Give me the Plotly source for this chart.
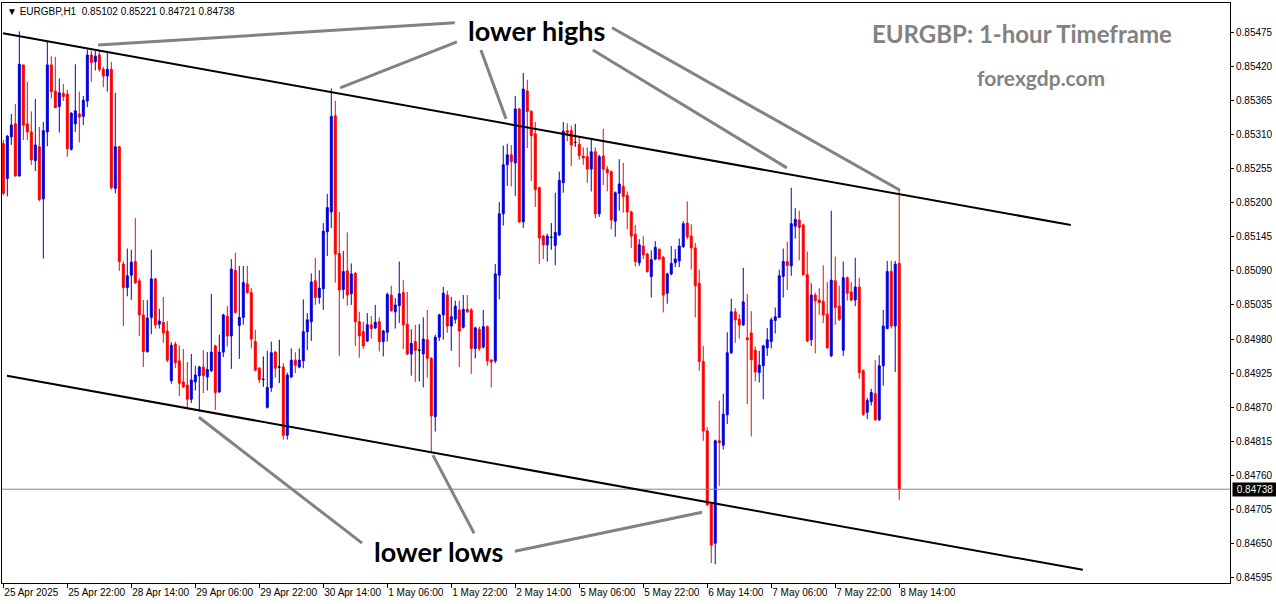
import plotly.graph_objects as go

# ---------------- data (EURGBP H1) ----------------
open_ = [
0.85295, 0.85239, 0.85306, 0.85327, 0.85243, 0.85422, 0.85327, 0.85314, 0.85268, 0.85290,
0.85206, 0.85314, 0.85422, 0.85380, 0.85355, 0.85376, 0.85375, 0.85286, 0.85327, 0.85343,
0.85339, 0.85364, 0.85438, 0.85427, 0.85438, 0.85415, 0.85404, 0.85415, 0.85223, 0.85290,
0.85101, 0.85063, 0.85083, 0.85105, 0.85074, 0.85019, 0.84960, 0.85015, 0.85077, 0.85004,
0.85007, 0.84993, 0.84913, 0.84972, 0.84945, 0.84911, 0.84906, 0.84883, 0.84911, 0.84921,
0.84935, 0.84919, 0.84929, 0.84969, 0.84895, 0.84959, 0.85017, 0.84985, 0.85091, 0.85002,
0.85015, 0.85069, 0.85055, 0.84976, 0.84933, 0.84915, 0.84870, 0.84902, 0.84959, 0.84935,
0.84935, 0.84825, 0.84919, 0.84946, 0.84935, 0.84945, 0.84992, 0.85008, 0.85074, 0.85047,
0.85061, 0.85153, 0.85185, 0.85340, 0.85118, 0.85060, 0.85090, 0.85053, 0.85086, 0.85008,
0.84992, 0.84977, 0.85003, 0.84998, 0.85008, 0.84976, 0.84991, 0.85051, 0.85024, 0.85034,
0.85055, 0.85004, 0.84956, 0.84976, 0.84962, 0.84956, 0.84979, 0.84949, 0.84855, 0.84983,
0.85019, 0.85051, 0.85001, 0.85012, 0.85027, 0.84999, 0.85028, 0.85027, 0.84965, 0.84996,
0.84967, 0.85000, 0.84946, 0.84945, 0.85083, 0.85182, 0.85261, 0.85277, 0.85264, 0.85351,
0.85169, 0.85380, 0.85347, 0.85311, 0.85224, 0.85146, 0.85132, 0.85144, 0.85131, 0.85148,
0.85232, 0.85316, 0.85316, 0.85297, 0.85294, 0.85275, 0.85274, 0.85254, 0.85282, 0.85182,
0.85275, 0.85254, 0.85250, 0.85170, 0.85215, 0.85226, 0.85212, 0.85185, 0.85149, 0.85103,
0.85130, 0.85117, 0.85081, 0.85109, 0.85125, 0.85112, 0.85054, 0.85085, 0.85103, 0.85106,
0.85129, 0.85167, 0.85146, 0.85127, 0.85070, 0.84944, 0.84832, 0.84714, 0.84651, 0.84816,
0.84809, 0.84858, 0.84958, 0.85024, 0.85012, 0.85003, 0.84982, 0.84990, 0.84962, 0.84926,
0.84937, 0.84966, 0.84976, 0.85010, 0.85015, 0.85081, 0.85105, 0.85098, 0.85162, 0.85172,
0.85164, 0.85084, 0.84979, 0.85051, 0.85043, 0.85041, 0.85020, 0.84953, 0.85074, 0.85033,
0.84962, 0.85079, 0.85056, 0.85043, 0.85064, 0.84929, 0.84862, 0.84879, 0.84892, 0.84850,
0.84937, 0.84997, 0.85089, 0.85001, 0.85102,
]
high = [
0.85301, 0.85309, 0.85343, 0.85359, 0.85476, 0.85422, 0.85395, 0.85347, 0.85367, 0.85322,
0.85330, 0.85459, 0.85436, 0.85435, 0.85400, 0.85391, 0.85382, 0.85346, 0.85423, 0.85379,
0.85372, 0.85447, 0.85445, 0.85445, 0.85445, 0.85419, 0.85442, 0.85427, 0.85377, 0.85291,
0.85105, 0.85126, 0.85124, 0.85175, 0.85078, 0.85043, 0.85043, 0.85124, 0.85079, 0.85029,
0.85048, 0.85009, 0.84975, 0.84976, 0.84970, 0.84964, 0.84943, 0.84956, 0.84937, 0.84937,
0.84962, 0.84959, 0.85053, 0.84971, 0.84987, 0.85021, 0.85033, 0.85109, 0.85119, 0.85098,
0.85098, 0.85098, 0.85062, 0.84995, 0.84935, 0.84952, 0.84961, 0.84976, 0.84961, 0.84979,
0.84941, 0.84926, 0.84965, 0.84959, 0.84965, 0.85044, 0.85022, 0.85086, 0.85111, 0.85091,
0.85167, 0.85214, 0.85384, 0.85364, 0.85185, 0.85122, 0.85152, 0.85102, 0.85088, 0.85024,
0.85008, 0.85022, 0.85017, 0.85035, 0.85015, 0.84995, 0.85055, 0.85066, 0.85046, 0.85105,
0.85075, 0.85056, 0.84996, 0.85003, 0.85004, 0.85015, 0.85027, 0.84951, 0.84987, 0.85021,
0.85064, 0.85058, 0.85048, 0.85042, 0.85042, 0.85051, 0.85051, 0.85030, 0.85000, 0.85000,
0.85027, 0.85002, 0.84948, 0.85101, 0.85201, 0.85292, 0.85295, 0.85293, 0.85372, 0.85353,
0.85409, 0.85398, 0.85349, 0.85330, 0.85226, 0.85148, 0.85150, 0.85167, 0.85216, 0.85250,
0.85330, 0.85328, 0.85324, 0.85327, 0.85307, 0.85289, 0.85289, 0.85303, 0.85289, 0.85277,
0.85319, 0.85259, 0.85252, 0.85218, 0.85270, 0.85264, 0.85218, 0.85187, 0.85164, 0.85141,
0.85146, 0.85119, 0.85123, 0.85138, 0.85126, 0.85114, 0.85087, 0.85130, 0.85125, 0.85142,
0.85170, 0.85202, 0.85165, 0.85135, 0.85092, 0.84969, 0.84838, 0.84716, 0.84818, 0.84881,
0.84892, 0.84991, 0.85045, 0.85030, 0.85020, 0.85095, 0.85053, 0.85025, 0.84968, 0.84961,
0.84971, 0.84998, 0.85015, 0.85031, 0.85092, 0.85126, 0.85137, 0.85224, 0.85191, 0.85187,
0.85166, 0.85121, 0.85070, 0.85055, 0.85062, 0.85099, 0.85072, 0.85187, 0.85113, 0.85066,
0.85105, 0.85081, 0.85072, 0.85111, 0.85079, 0.84931, 0.84885, 0.84900, 0.84946, 0.84954,
0.85027, 0.85106, 0.85106, 0.85106, 0.85221,
]
low = [
0.85212, 0.85210, 0.85293, 0.85242, 0.85242, 0.85301, 0.85301, 0.85261, 0.85251, 0.85202,
0.85110, 0.85291, 0.85368, 0.85353, 0.85313, 0.85364, 0.85274, 0.85284, 0.85314, 0.85297,
0.85325, 0.85354, 0.85395, 0.85413, 0.85411, 0.85386, 0.85379, 0.85221, 0.85215, 0.85090,
0.85001, 0.85049, 0.85043, 0.85069, 0.84985, 0.84935, 0.84958, 0.84988, 0.84997, 0.84997,
0.84974, 0.84943, 0.84908, 0.84933, 0.84888, 0.84901, 0.84868, 0.84877, 0.84897, 0.84863,
0.84893, 0.84897, 0.84927, 0.84866, 0.84893, 0.84951, 0.84968, 0.84932, 0.85021, 0.84948,
0.85003, 0.85053, 0.84965, 0.84928, 0.84909, 0.84903, 0.84868, 0.84895, 0.84918, 0.84909,
0.84818, 0.84818, 0.84917, 0.84925, 0.84933, 0.84933, 0.84962, 0.84977, 0.85035, 0.85037,
0.85027, 0.85114, 0.85159, 0.85071, 0.84953, 0.85045, 0.85034, 0.85035, 0.84969, 0.84950,
0.84964, 0.84975, 0.84981, 0.84996, 0.84960, 0.84952, 0.84976, 0.85024, 0.84997, 0.85006,
0.84964, 0.84954, 0.84921, 0.84911, 0.84912, 0.84902, 0.84918, 0.84797, 0.84831, 0.84977,
0.84979, 0.84990, 0.84961, 0.85005, 0.84935, 0.84997, 0.85022, 0.84924, 0.84949, 0.84961,
0.84965, 0.84937, 0.84902, 0.84941, 0.85044, 0.85163, 0.85227, 0.85226, 0.85211, 0.85167,
0.85159, 0.85288, 0.85235, 0.85193, 0.85101, 0.85109, 0.85105, 0.85124, 0.85099, 0.85146,
0.85216, 0.85299, 0.85259, 0.85290, 0.85269, 0.85261, 0.85232, 0.85218, 0.85175, 0.85177,
0.85228, 0.85218, 0.85157, 0.85145, 0.85187, 0.85184, 0.85157, 0.85127, 0.85097, 0.85098,
0.85109, 0.85087, 0.85047, 0.85107, 0.85107, 0.85023, 0.85037, 0.85083, 0.85096, 0.85096,
0.85127, 0.85141, 0.85092, 0.85015, 0.84929, 0.84816, 0.84711, 0.84619, 0.84617, 0.84743,
0.84802, 0.84843, 0.84956, 0.84974, 0.84981, 0.85001, 0.84875, 0.84823, 0.84912, 0.84910,
0.84883, 0.84953, 0.84965, 0.84989, 0.85014, 0.85047, 0.85059, 0.85082, 0.85142, 0.85107,
0.85082, 0.84975, 0.84969, 0.84957, 0.85019, 0.85006, 0.84964, 0.84951, 0.85003, 0.85009,
0.84953, 0.85042, 0.85041, 0.85033, 0.84916, 0.84856, 0.84851, 0.84873, 0.84848, 0.84848,
0.84905, 0.84996, 0.84997, 0.84927, 0.84721,
]
close = [
0.85215, 0.85307, 0.85325, 0.85243, 0.85423, 0.85325, 0.85314, 0.85269, 0.85293, 0.85205,
0.85316, 0.85422, 0.85379, 0.85353, 0.85377, 0.85371, 0.85287, 0.85344, 0.85348, 0.85338,
0.85365, 0.85438, 0.85426, 0.85436, 0.85415, 0.85404, 0.85415, 0.85224, 0.85290, 0.85105,
0.85063, 0.85082, 0.85104, 0.85071, 0.85019, 0.84960, 0.85014, 0.85077, 0.85003, 0.85009,
0.84990, 0.84946, 0.84970, 0.84942, 0.84909, 0.84903, 0.84883, 0.84914, 0.84922, 0.84935,
0.84921, 0.84931, 0.84959, 0.84894, 0.84959, 0.85019, 0.84985, 0.85093, 0.85023, 0.85015,
0.85071, 0.85055, 0.84980, 0.84930, 0.84915, 0.84915, 0.84902, 0.84958, 0.84933, 0.84935,
0.84825, 0.84922, 0.84946, 0.84938, 0.84946, 0.84992, 0.85011, 0.85072, 0.85047, 0.85062,
0.85154, 0.85192, 0.85339, 0.85117, 0.85059, 0.85089, 0.85051, 0.85085, 0.85008, 0.84985,
0.84969, 0.85003, 0.84997, 0.85007, 0.84976, 0.84993, 0.85052, 0.85026, 0.85035, 0.85053,
0.85003, 0.84956, 0.84973, 0.84962, 0.84962, 0.84980, 0.84949, 0.84856, 0.84983, 0.85019,
0.85054, 0.85001, 0.85016, 0.85033, 0.84993, 0.85028, 0.85024, 0.84965, 0.84998, 0.84965,
0.85000, 0.84945, 0.84943, 0.85085, 0.85182, 0.85261, 0.85277, 0.85266, 0.85351, 0.85169,
0.85383, 0.85347, 0.85308, 0.85221, 0.85143, 0.85132, 0.85146, 0.85144, 0.85152, 0.85236,
0.85315, 0.85313, 0.85293, 0.85297, 0.85276, 0.85272, 0.85254, 0.85282, 0.85182, 0.85274,
0.85254, 0.85248, 0.85172, 0.85216, 0.85230, 0.85210, 0.85185, 0.85146, 0.85105, 0.85132,
0.85116, 0.85089, 0.85108, 0.85128, 0.85109, 0.85051, 0.85085, 0.85102, 0.85109, 0.85130,
0.85166, 0.85145, 0.85127, 0.85066, 0.84944, 0.84832, 0.84713, 0.84648, 0.84816, 0.84813,
0.84859, 0.84958, 0.85024, 0.85011, 0.85003, 0.85040, 0.84979, 0.84947, 0.84927, 0.84938,
0.84969, 0.84979, 0.85011, 0.85016, 0.85082, 0.85105, 0.85099, 0.85166, 0.85173, 0.85160,
0.85084, 0.84977, 0.85051, 0.85042, 0.85039, 0.85019, 0.84966, 0.85075, 0.85031, 0.85012,
0.85079, 0.85054, 0.85043, 0.85064, 0.84926, 0.84859, 0.84881, 0.84894, 0.84850, 0.84937,
0.85001, 0.85089, 0.85001, 0.85101, 0.84738,
]

# time-axis labels (one every 16 hourly bars)
tick_bars = [0, 16, 32, 48, 64, 80, 96, 112, 128, 144, 160, 176, 192, 208, 224]
tick_text = ["25 Apr 2025", "25 Apr 22:00", "28 Apr 14:00", "29 Apr 06:00", "29 Apr 22:00",
             "30 Apr 14:00", "1 May 06:00", "1 May 22:00", "2 May 14:00", "5 May 06:00",
             "5 May 22:00", "6 May 14:00", "7 May 06:00", "7 May 22:00", "8 May 14:00"]
price_ticks = [0.84595, 0.84650, 0.84705, 0.84760, 0.84815, 0.84870, 0.84925, 0.84980, 0.85035,
               0.85090, 0.85145, 0.85200, 0.85255, 0.85310, 0.85365, 0.85420, 0.85475]

# channel lines (bar index, price)
upper_channel_x = [-0.1, 266.9]
upper_channel_y = [0.85473, 0.85164]
lower_channel_x = [0.9, 269.9]
lower_channel_y = [0.84921, 0.84608]

# pointer lines from the labels (bar index pairs, price pairs)
highs_pointers = [((23.7, 112.9), (0.85454, 0.85490)),
                  ((84.2, 113.4), (0.85385, 0.85459)),
                  ((119.4, 125.7), (0.85446, 0.85335)),
                  ((147.4, 195.9), (0.85446, 0.85256)),
                  ((152.2, 224.2), (0.85482, 0.85220))]
lows_pointers = [((48.9, 89.7), (0.84854, 0.84651)),
                 ((107.4, 117.7), (0.84793, 0.84667)),
                 ((127.9, 174.7), (0.84638, 0.84701))]

current_price = 0.84738
header = "EURGBP,H1  0.85102 0.85221 0.84721 0.84738"

# ---------------- figure ----------------
BLUE = "#0000dd"
RED = "#ff0000"
GREY = "#828282"

bars = list(range(len(open_)))
groups = {"up": [], "down": [], "doji": []}
for i in bars:
    if close[i] > open_[i]:
        groups["up"].append(i)
    elif close[i] < open_[i]:
        groups["down"].append(i)
    else:
        groups["doji"].append(i)

fig = go.Figure()
colors = {"up": BLUE, "down": RED, "doji": "#000000"}
for name, idx in groups.items():
    c = colors[name]
    fig.add_trace(go.Candlestick(
        x=idx,
        open=[open_[i] for i in idx], high=[high[i] for i in idx],
        low=[low[i] for i in idx], close=[close[i] for i in idx],
        increasing=dict(line=dict(color=c, width=1), fillcolor=c),
        decreasing=dict(line=dict(color=c, width=1), fillcolor=c),
        whiskerwidth=0, showlegend=False, hoverinfo="skip",
    ))

# current price line
fig.add_trace(go.Scatter(x=[-1, 320], y=[current_price, current_price], mode="lines",
                         line=dict(color="#778899", width=1), showlegend=False, hoverinfo="skip"))
# channel
fig.add_trace(go.Scatter(x=upper_channel_x, y=upper_channel_y, mode="lines",
                         line=dict(color="black", width=2), showlegend=False, hoverinfo="skip"))
fig.add_trace(go.Scatter(x=lower_channel_x, y=lower_channel_y, mode="lines",
                         line=dict(color="black", width=2), showlegend=False, hoverinfo="skip"))
for (xs, ys) in highs_pointers + lows_pointers:
    fig.add_trace(go.Scatter(x=list(xs), y=list(ys), mode="lines",
                             line=dict(color=GREY, width=3), showlegend=False, hoverinfo="skip"))

W, H = 1276, 604
ML, MR, MT, MB = 2, 46, 3, 21
PW, PH = W - ML - MR, H - MT - MB


def px_to_paper(x, y):
    return (x - ML) / PW, 1 - (y - MT) / PH


tx, ty = px_to_paper(1022, 33)
fx, fy = px_to_paper(1041, 78)

annotations = [
    dict(text="lower highs", x=133.2, y=0.85478, xref="x", yref="y", showarrow=False,
         xanchor="center", yanchor="middle",
         font=dict(family="Lato", size=27, color="black", weight="bold")),
    dict(text="lower lows", x=108.7, y=0.84638, xref="x", yref="y", showarrow=False,
         xanchor="center", yanchor="middle",
         font=dict(family="Lato", size=27, color="black", weight="bold")),
    dict(text="EURGBP: 1-hour Timeframe", x=tx, y=ty, xref="paper", yref="paper",
         xanchor="center", yanchor="middle",
         showarrow=False, font=dict(family="Lato", size=24, color=GREY, weight="bold")),
    dict(text="forexgdp.com", x=fx, y=fy, xref="paper", yref="paper",
         xanchor="center", yanchor="middle",
         showarrow=False, font=dict(family="Lato", size=21, color=GREY, weight="bold")),
    dict(text="▼ " + header, x=0, y=1, xref="paper", yref="paper", xanchor="left", yanchor="top",
         xshift=3, yshift=-1, showarrow=False,
         font=dict(family="Liberation Sans", size=10, color="black")),
    dict(text=" %.5f " % current_price, x=1, y=current_price, xref="paper", yref="y",
         xanchor="left", yanchor="middle", xshift=2, showarrow=False, bgcolor="black",
         borderpad=1, font=dict(family="Liberation Sans", size=10, color="white")),
]

fig.update_layout(
    width=W, height=H,
    margin=dict(l=ML, r=MR, t=MT, b=MB, autoexpand=False),
    paper_bgcolor="white", plot_bgcolor="white",
    annotations=annotations,
    xaxis=dict(range=[-0.33, 306.7], rangeslider=dict(visible=False), automargin=False,
               tickmode="array", tickvals=tick_bars, ticktext=tick_text, tickangle=0,
               ticks="outside", ticklen=4, tickcolor="black",
               ticklabelposition="outside right",
               tickfont=dict(family="Liberation Sans", size=10, color="black"),
               showgrid=False, zeroline=False,
               showline=True, linecolor="black", linewidth=1, mirror=True, fixedrange=True),
    yaxis=dict(range=[0.845868, 0.855218], side="right", automargin=False,
               tickmode="array", tickvals=price_ticks,
               ticktext=["%.5f" % v for v in price_ticks],
               ticks="outside", ticklen=3, tickcolor="black",
               tickfont=dict(family="Liberation Sans", size=10, color="black"),
               showgrid=False, zeroline=False,
               showline=True, linecolor="black", linewidth=1, mirror=True, fixedrange=True),
    showlegend=False,
)

fig.write_html("out.html", config={"displayModeBar": False},
               post_script="document.body.style.margin='0px';document.body.style.overflow='hidden';")
